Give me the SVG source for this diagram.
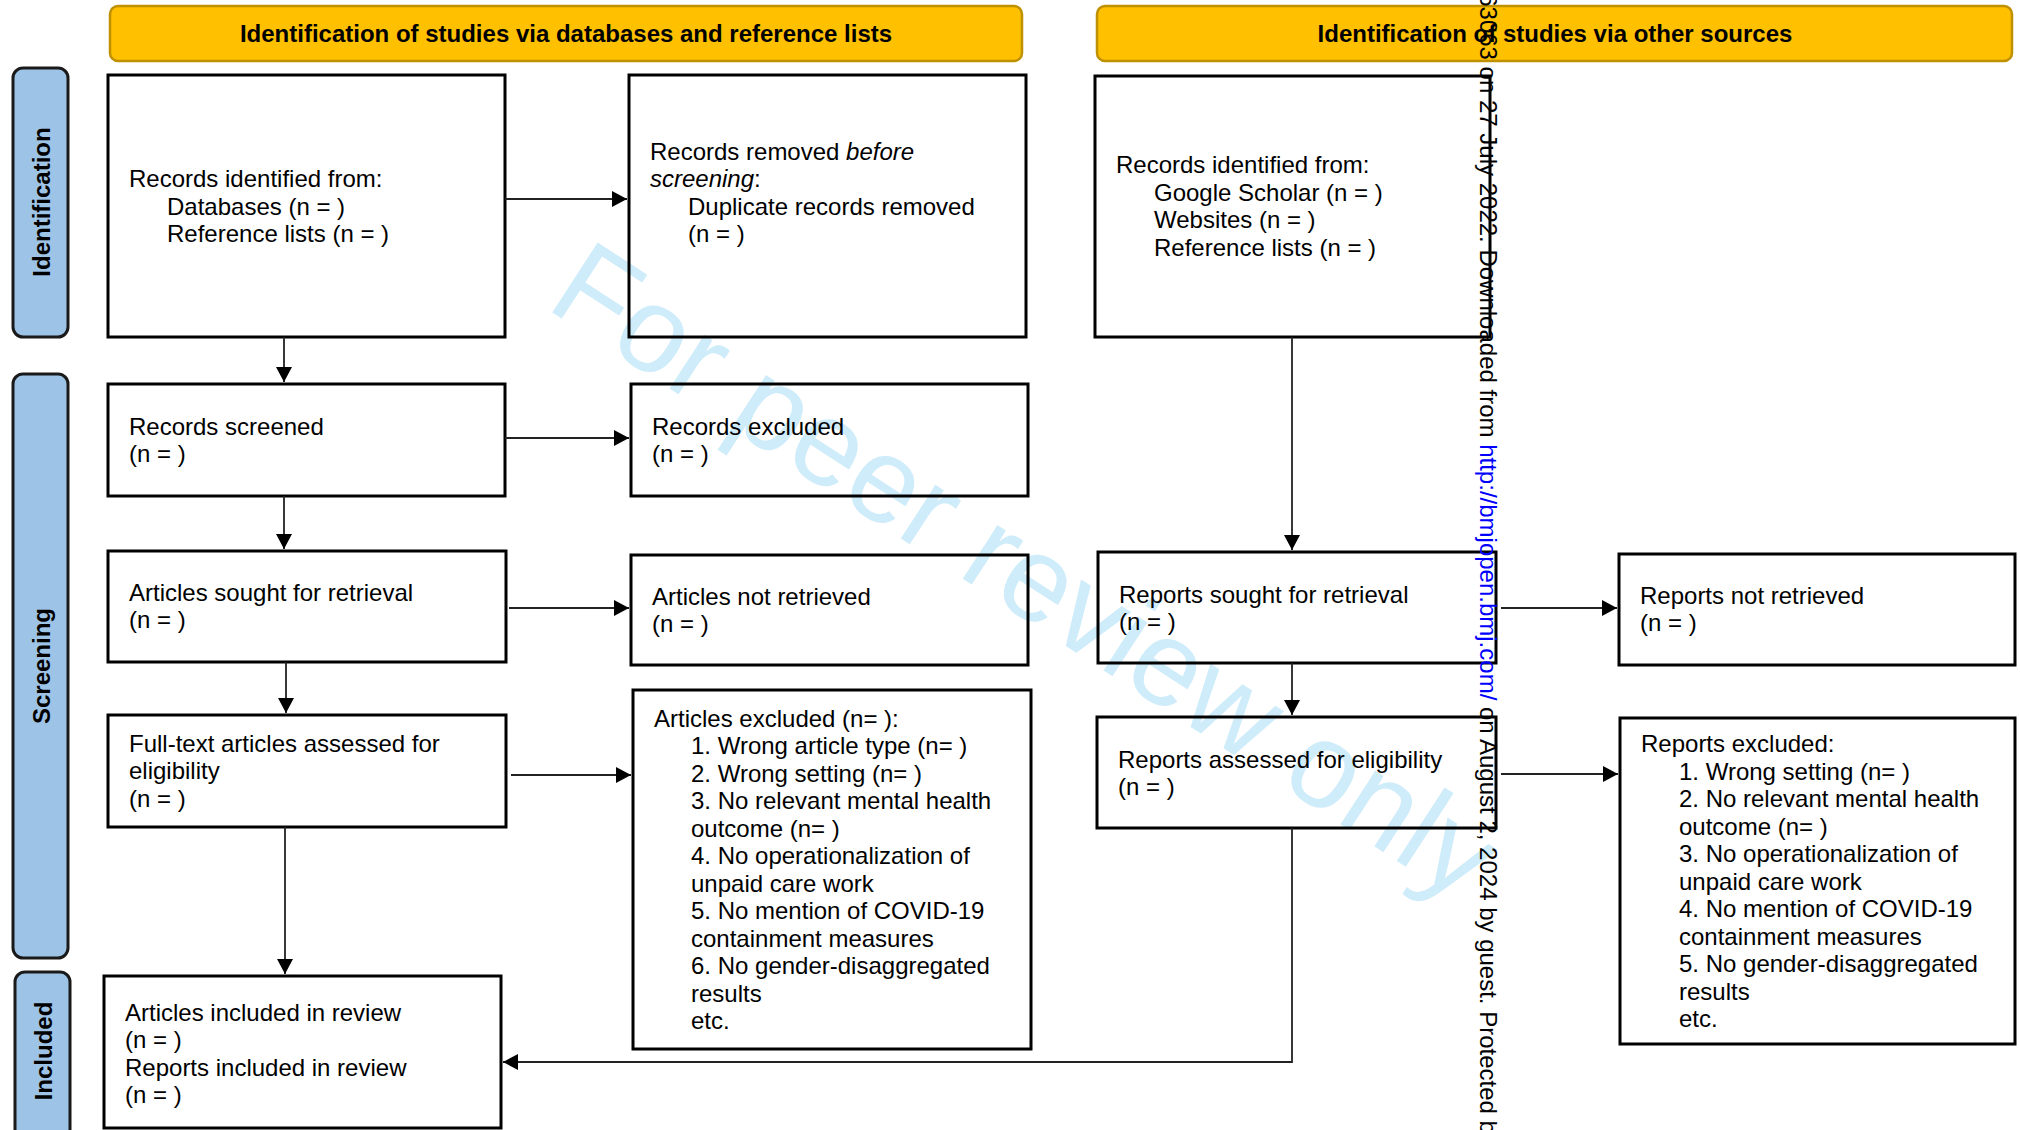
<svg xmlns="http://www.w3.org/2000/svg" width="2020" height="1130" viewBox="0 0 2020 1130">
<defs>
<style>
text { font-family: "Liberation Sans", Arial, sans-serif; font-size: 24px; fill: #000; }
.box { fill: none; stroke: #000; stroke-width: 3; }
.hdr { fill: #FFC000; stroke: #BF9000; stroke-width: 2.5; }
.hdrt { font-weight: bold; text-anchor: middle; }
.side { fill: #9DC3E6; stroke: #1a1a1a; stroke-width: 3; }
.sidet { font-weight: bold; text-anchor: middle; }
.conn path { fill: none; stroke: #222; stroke-width: 1.8; marker-end: url(#ah); }
.wm { font-size: 121px; fill: #CFECFA; }
.it { font-style: italic; }
</style>
<marker id="ah" markerUnits="userSpaceOnUse" markerWidth="16" markerHeight="16" refX="15" refY="8" orient="auto">
<path d="M0,0 L15,8 L0,16 z" fill="#000"/>
</marker>
</defs>
<rect width="2020" height="1130" fill="#fff"/>

<text class="wm" transform="translate(544,307) rotate(33)">For peer review only</text>

<g id="header-left"><rect class="hdr" x="110" y="6" width="912" height="55" rx="8"/><text class="hdrt" x="566" y="42">Identification of studies via databases and reference lists</text></g>
<g id="header-right"><rect class="hdr" x="1097" y="6" width="915" height="55" rx="8"/><text class="hdrt" x="1555" y="42">Identification of studies via other sources</text></g>

<g id="side-identification"><rect class="side" x="13" y="68" width="55" height="269" rx="10"/><text class="sidet" transform="translate(49.5,202) rotate(-90)">Identification</text></g>
<g id="side-screening"><rect class="side" x="13" y="374" width="55" height="584" rx="10"/><text class="sidet" transform="translate(49.5,666) rotate(-90)">Screening</text></g>
<g id="side-included"><rect class="side" x="15" y="972" width="55" height="190" rx="10"/><text class="sidet" transform="translate(51.5,1051) rotate(-90)">Included</text></g>

<g id="records-identified"><rect class="box" x="108" y="75" width="397" height="262"/>
<text x="129" y="187">Records identified from:</text>
<text x="167" y="214.5">Databases (n = )</text>
<text x="167" y="242">Reference lists (n = )</text></g>

<g id="records-removed"><rect class="box" x="629" y="75" width="397" height="262"/>
<text x="650" y="159.5">Records removed <tspan class="it">before</tspan></text>
<text x="650" y="187"><tspan class="it">screening</tspan>:</text>
<text x="688" y="214.5">Duplicate records removed</text>
<text x="688" y="242">(n = )</text></g>

<g id="other-identified"><rect class="box" x="1095" y="76" width="395" height="261"/>
<text x="1116" y="173">Records identified from:</text>
<text x="1154" y="200.5">Google Scholar (n = )</text>
<text x="1154" y="228">Websites (n = )</text>
<text x="1154" y="255.5">Reference lists (n = )</text></g>

<g id="records-screened"><rect class="box" x="108" y="384" width="397" height="112"/>
<text x="129" y="435">Records screened</text>
<text x="129" y="461.5">(n = )</text></g>

<g id="records-excluded"><rect class="box" x="631" y="384" width="397" height="112"/>
<text x="652" y="435">Records excluded</text>
<text x="652" y="461.5">(n = )</text></g>

<g id="articles-sought"><rect class="box" x="108" y="551" width="398" height="111"/>
<text x="129" y="601">Articles sought for retrieval</text>
<text x="129" y="628">(n = )</text></g>

<g id="articles-not-retrieved"><rect class="box" x="631" y="555" width="397" height="110"/>
<text x="652" y="605">Articles not retrieved</text>
<text x="652" y="632">(n = )</text></g>

<g id="fulltext-assessed"><rect class="box" x="108" y="715" width="398" height="112"/>
<text x="129" y="751.5">Full-text articles assessed for</text>
<text x="129" y="779">eligibility</text>
<text x="129" y="806.5">(n = )</text></g>

<g id="articles-excluded"><rect class="box" x="633" y="690" width="398" height="359"/>
<text x="654" y="726.5">Articles excluded (n= ):</text>
<text x="691" y="754">1. Wrong article type (n= )</text>
<text x="691" y="781.5">2. Wrong setting (n= )</text>
<text x="691" y="809">3. No relevant mental health</text>
<text x="691" y="836.5">outcome (n= )</text>
<text x="691" y="864">4. No operationalization of</text>
<text x="691" y="891.5">unpaid care work</text>
<text x="691" y="919">5. No mention of COVID-19</text>
<text x="691" y="946.5">containment measures</text>
<text x="691" y="974">6. No gender-disaggregated</text>
<text x="691" y="1001.5">results</text>
<text x="691" y="1029">etc.</text></g>

<g id="included-review"><rect class="box" x="104" y="976" width="397" height="152"/>
<text x="125" y="1020.5">Articles included in review</text>
<text x="125" y="1048">(n = )</text>
<text x="125" y="1075.5">Reports included in review</text>
<text x="125" y="1103">(n = )</text></g>

<g id="reports-sought"><rect class="box" x="1098" y="552" width="398" height="111"/>
<text x="1119" y="602.5">Reports sought for retrieval</text>
<text x="1119" y="630">(n = )</text></g>

<g id="reports-not-retrieved"><rect class="box" x="1619" y="554" width="396" height="111"/>
<text x="1640" y="603.5">Reports not retrieved</text>
<text x="1640" y="631">(n = )</text></g>

<g id="reports-assessed"><rect class="box" x="1097" y="717" width="399" height="111"/>
<text x="1118" y="767.5">Reports assessed for eligibility</text>
<text x="1118" y="795">(n = )</text></g>

<g id="reports-excluded"><rect class="box" x="1620" y="718" width="395" height="326"/>
<text x="1641" y="752">Reports excluded:</text>
<text x="1679" y="779.5">1. Wrong setting (n= )</text>
<text x="1679" y="807">2. No relevant mental health</text>
<text x="1679" y="834.5">outcome (n= )</text>
<text x="1679" y="862">3. No operationalization of</text>
<text x="1679" y="889.5">unpaid care work</text>
<text x="1679" y="917">4. No mention of COVID-19</text>
<text x="1679" y="944.5">containment measures</text>
<text x="1679" y="972">5. No gender-disaggregated</text>
<text x="1679" y="999.5">results</text>
<text x="1679" y="1027">etc.</text></g>

<g id="connectors" class="conn">
<path d="M505,199 H627"/>
<path d="M284,337 V382"/>
<path d="M505,438 H629"/>
<path d="M284,496 V549"/>
<path d="M509,608 H629"/>
<path d="M286,662 V713"/>
<path d="M511,775 H631"/>
<path d="M285,827 V974"/>
<path d="M1292,337 V550"/>
<path d="M1501,608 H1617"/>
<path d="M1292,663 V715"/>
<path d="M1501,774 H1618"/>
<path d="M1292,828 V1062 H503"/>
</g>

<text transform="translate(1480,-6.8) rotate(90)">63063 on 27 July 2022. Downloaded from <tspan fill="#0000FF">http://bmjopen.bmj.com/</tspan> on August 2, 2024 by guest. Protected b</text>
</svg>
